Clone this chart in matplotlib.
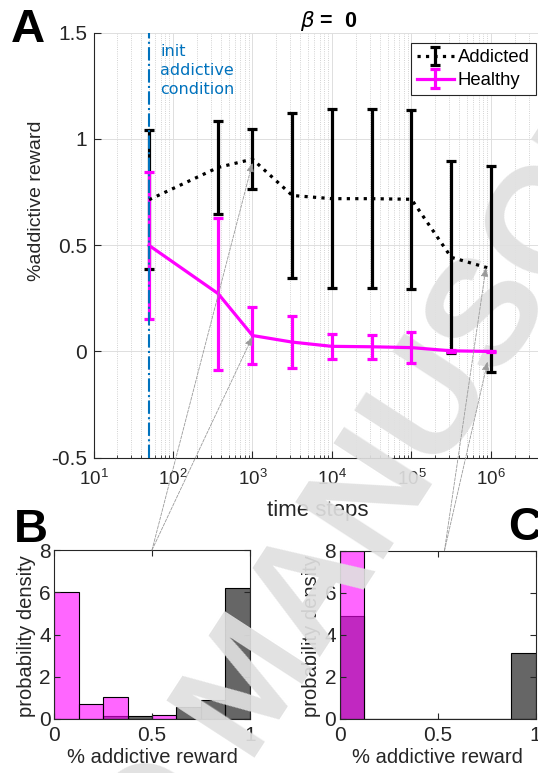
import matplotlib.pyplot as plt

plt.rcParams['font.family'] = ['Liberation Sans', 'DejaVu Sans']
plt.rcParams['axes.unicode_minus'] = False

# panel A: share of addictive reward over time (mean +- sd)
time_steps = [50, 370, 1000, 3162, 10000, 31623, 100000, 316228, 1000000]
addicted_mean = [0.714, 0.866, 0.905, 0.734, 0.719, 0.719, 0.716, 0.443, 0.389]
addicted_err = [0.328, 0.218, 0.141, 0.386, 0.421, 0.421, 0.421, 0.451, 0.486]
healthy_mean = [0.499, 0.272, 0.075, 0.044, 0.024, 0.022, 0.018, 0.003, 0.0]
healthy_err = [0.347, 0.357, 0.135, 0.122, 0.059, 0.057, 0.073, 0.006, 0.004]
init_step = 50

# where the dashed arrows from B and C point to in panel A
arrow_b = [(1000, 0.888), (1000, 0.07)]
arrow_c = [(865000, 0.395), (908000, -0.047)]

# panels B and C: histograms (probability density), 8 bins on [0, 1]
bin_left = [0, 0.125, 0.25, 0.375, 0.5, 0.625, 0.75, 0.875]
b_addicted = [0, 0, 0.15, 0.15, 0, 0.58, 0.9, 6.19]
b_healthy = [6.03, 0.69, 1.03, 0, 0.17, 0, 0, 0]
c_addicted = [4.91, 0, 0, 0, 0, 0, 0, 3.12]
c_healthy = [8.0, 0, 0, 0, 0, 0, 0, 0]

W, H = 538, 773
AXCOL = '#262626'
MAGENTA = '#ff00ff'
BLUE = '#0072bd'

fig = plt.figure(figsize=(W / 100, H / 100), dpi=100)


def box(left, top, right, bottom):
    # pixel box -> figure fraction rect
    return [left / W, 1 - bottom / H, (right - left) / W, (bottom - top) / H]


rect_a = box(93.5, 32.7, 550.6, 457.7)
xlim_a = (10, 10 ** 6.75)
ylim_a = (-0.5, 1.5)

# ---- panel A: axes, grid and labels ----
ax = fig.add_axes(rect_a)
ax.set_xscale('log')
ax.set_xlim(*xlim_a)
ax.set_ylim(*ylim_a)
ax.text(160 / W, 1 - 44 / H, 'init\naddictive\ncondition', transform=fig.transFigure,
        color=BLUE, fontsize=11.5, family='DejaVu Sans', va='top', ha='left',
        linespacing=1.32)

ax.set_yticks([-0.5, 0, 0.5, 1, 1.5])
ax.set_yticklabels(['-0.5', '0', '0.5', '1', '1.5'])
ax.grid(True, which='major', color='#dedede', lw=0.7)
ax.grid(True, which='minor', axis='x', color='#c4c4c4', ls=':', lw=0.6)
ax.set_axisbelow(True)
for s in ['top', 'right']:
    ax.spines[s].set_visible(False)
for s in ['left', 'bottom']:
    ax.spines[s].set_color(AXCOL)
ax.tick_params(which='both', direction='in', colors=AXCOL)
ax.tick_params(which='major', length=5)
ax.tick_params(which='minor', length=2.5)
ax.tick_params(axis='x', labelsize=13.5, pad=8)
ax.tick_params(axis='y', labelsize=15, pad=4.5)

ax.set_xlabel('time steps', fontsize=16, color=AXCOL)
ax.xaxis.set_label_coords((317.5 - 93.5) / 457.1, (457.7 - 500) / 425)
ax.set_ylabel('%addictive reward', fontsize=14, color=AXCOL)
ax.yaxis.set_label_coords((45 - 93.5) / 457.1, (457.7 - 201) / 425)

fig.text(329 / W, 1 - 27 / H, r'$\beta$ =  0', ha='center', va='baseline',
         fontsize=15.5, fontweight='bold')

# overlay on A: the data, arrows and legend sit above the watermark
top = fig.add_axes(rect_a, zorder=20)
top.set_xscale('log')
top.set_xlim(*xlim_a)
top.set_ylim(*ylim_a)
top.axis('off')
h_add = top.errorbar(time_steps, addicted_mean, yerr=addicted_err, color='k',
                     ls=':', lw=2.3, elinewidth=2.3, capsize=3.8, capthick=2.3)
h_heal = top.errorbar(time_steps, healthy_mean, yerr=healthy_err, color=MAGENTA,
                      ls='-', lw=2.3, elinewidth=2.3, capsize=3.8, capthick=2.3)
top.axvline(init_step, color=BLUE, ls='-.', lw=1.5, zorder=5)

leg = top.legend([h_add, h_heal], ['Addicted', 'Healthy'], loc='upper right',
                 bbox_to_anchor=(536 / W, 1 - 43 / H),
                 bbox_transform=fig.transFigure, fontsize=13.3, fancybox=False,
                 framealpha=1, edgecolor=AXCOL, borderpad=0.35, borderaxespad=0,
                 handlelength=2.0, handletextpad=0.2, labelspacing=0.3)
leg.get_frame().set_linewidth(0.8)


# ---- panels B and C ----
def hist_panel(rect, addicted, healthy, ylab_x):
    hx = fig.add_axes(rect)
    hx.bar(bin_left, addicted, width=0.125, align='edge',
           facecolor=(0, 0, 0, 0.6), edgecolor='k', lw=0.8)
    hx.bar(bin_left, healthy, width=0.125, align='edge',
           facecolor=(1, 0, 1, 0.6), edgecolor='k', lw=0.8)
    hx.set_xlim(0, 1)
    hx.set_ylim(0, 8)
    hx.set_xticks([0, 0.5, 1])
    hx.set_xticklabels(['0', '0.5', '1'])
    hx.set_yticks([0, 2, 4, 6, 8])
    for s in hx.spines.values():
        s.set_color(AXCOL)
    hx.tick_params(direction='in', top=True, right=True, length=4,
                   colors=AXCOL, labelsize=15)
    hx.tick_params(axis='x', pad=5)
    hx.tick_params(axis='y', pad=2.5)
    hx.set_xlabel('% addictive reward', fontsize=14.5, color=AXCOL)
    hx.xaxis.set_label_coords(0.5, -0.17)
    hx.set_ylabel('probability density', fontsize=14.5, color=AXCOL)
    hx.yaxis.set_label_coords(ylab_x, 0.49)
    return hx


axb = hist_panel(box(54.3, 550, 249.7, 719), b_addicted, b_healthy, -0.095)
axc = hist_panel(box(339.7, 550.7, 535.5, 719), c_addicted, c_healthy, -0.095)

# dashed pointers from the histograms to the time points in A
arrow_style = dict(arrowstyle='-|>,head_length=0.55,head_width=0.22',
                   color='#9a9a9a', ls='--', lw=0.6, shrinkA=0, shrinkB=0)
for target in arrow_b:
    top.annotate('', xy=target, xytext=(0.5, 8), textcoords=axb.transData,
                 arrowprops=arrow_style)
for target in arrow_c:
    top.annotate('', xy=target, xytext=(0.535, 8), textcoords=axc.transData,
                 arrowprops=arrow_style)

# panel letters
fig.text(11 / W, 1 - 42 / H, 'A', fontsize=34, fontweight='bold', va='baseline')
fig.text(14 / W, 1 - 542 / H, 'B', fontsize=34, fontweight='bold', va='baseline')
fig.text(508 / W, 1 - 540 / H, 'C', fontsize=34, fontweight='bold', va='baseline')

# manuscript watermark, two words meeting near the lower edge
wm = dict(fontsize=110, fontweight='bold', color='#e0e0e0', alpha=0.92,
          rotation=57, rotation_mode='anchor', va='baseline', zorder=10)
fig.text(245 / W, 1 - 757 / H, 'MANUSCRIPT', ha='left', **wm)
fig.text(222 / W, 1 - 793 / H, 'ACCEPTED', ha='right', **wm)

fig.savefig('out.png', dpi=100)
